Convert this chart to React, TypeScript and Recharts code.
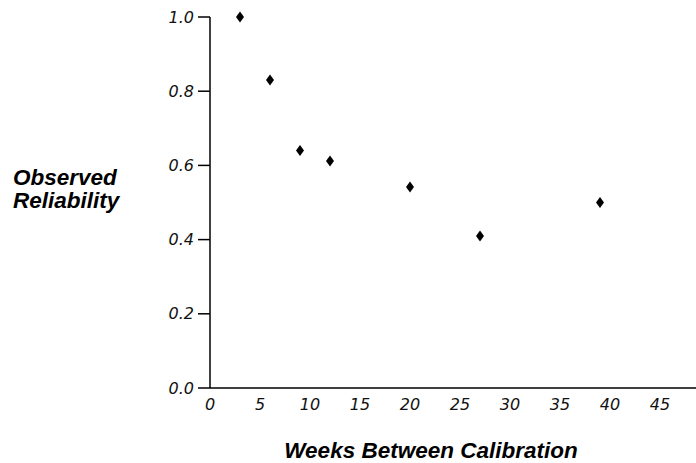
import { ScatterChart, Scatter, XAxis, YAxis, Label } from "recharts";

// weeks between calibration vs observed reliability
const weeks = [3, 6, 9, 12, 20, 27, 39];
const reliability = [1.0, 0.83, 0.64, 0.612, 0.542, 0.41, 0.5];
const xTicks = [0, 5, 10, 15, 20, 25, 30, 35, 40, 45];
const yTicks = [0, 0.2, 0.4, 0.6, 0.8, 1.0];

const points = weeks.map((w, i) => ({ x: w, y: reliability[i] }));

const Diamond = (props: any) => {
  const { cx, cy } = props;
  if (cx == null || cy == null) return null;
  return (
    <path
      d={`M${cx},${cy - 5.5} L${cx + 4},${cy} L${cx},${cy + 5.5} L${cx - 4},${cy} Z`}
      fill="#000"
    />
  );
};

const tickFont = {
  fontFamily: "DejaVu Sans",
  fontStyle: "italic",
  fontSize: 16,
  fill: "#111",
};

const titleStyle = {
  fontFamily: "Liberation Sans",
  fontStyle: "italic",
  fontWeight: "bold",
  fontSize: 22.5,
  fill: "#000",
};

export default function App() {
  return (
    <div style={{ position: "absolute", left: 0, top: 0, background: "#fff" }}>
      <ScatterChart
        width={696}
        height={463}
        margin={{ top: 17, right: 0, left: 0, bottom: 0 }}
      >
        <XAxis
          type="number"
          dataKey="x"
          domain={[0, 48.6]}
          ticks={xTicks}
          tickLine={false}
          tickMargin={5}
          height={75}
          axisLine={{ stroke: "#000", strokeWidth: 1.5 }}
          tick={tickFont}
        >
          <Label
            content={() => (
              <text x={431} y={458} textAnchor="middle" style={titleStyle}>
                Weeks Between Calibration
              </text>
            )}
          />
        </XAxis>
        <YAxis
          type="number"
          dataKey="y"
          domain={[0, 1]}
          ticks={yTicks}
          width={210}
          tickSize={12}
          tickMargin={4}
          tickFormatter={(v: number) => v.toFixed(1)}
          axisLine={{ stroke: "#000", strokeWidth: 1.5 }}
          tickLine={{ stroke: "#000", strokeWidth: 1.5 }}
          tick={tickFont}
        >
          <Label
            content={() => (
              <text x={13} y={185} style={titleStyle}>
                <tspan x={13} dy={0}>Observed</tspan>
                <tspan x={13} dy={23}>Reliability</tspan>
              </text>
            )}
          />
        </YAxis>
        <Scatter data={points} shape={Diamond} isAnimationActive={false} />
      </ScatterChart>
    </div>
  );
}
